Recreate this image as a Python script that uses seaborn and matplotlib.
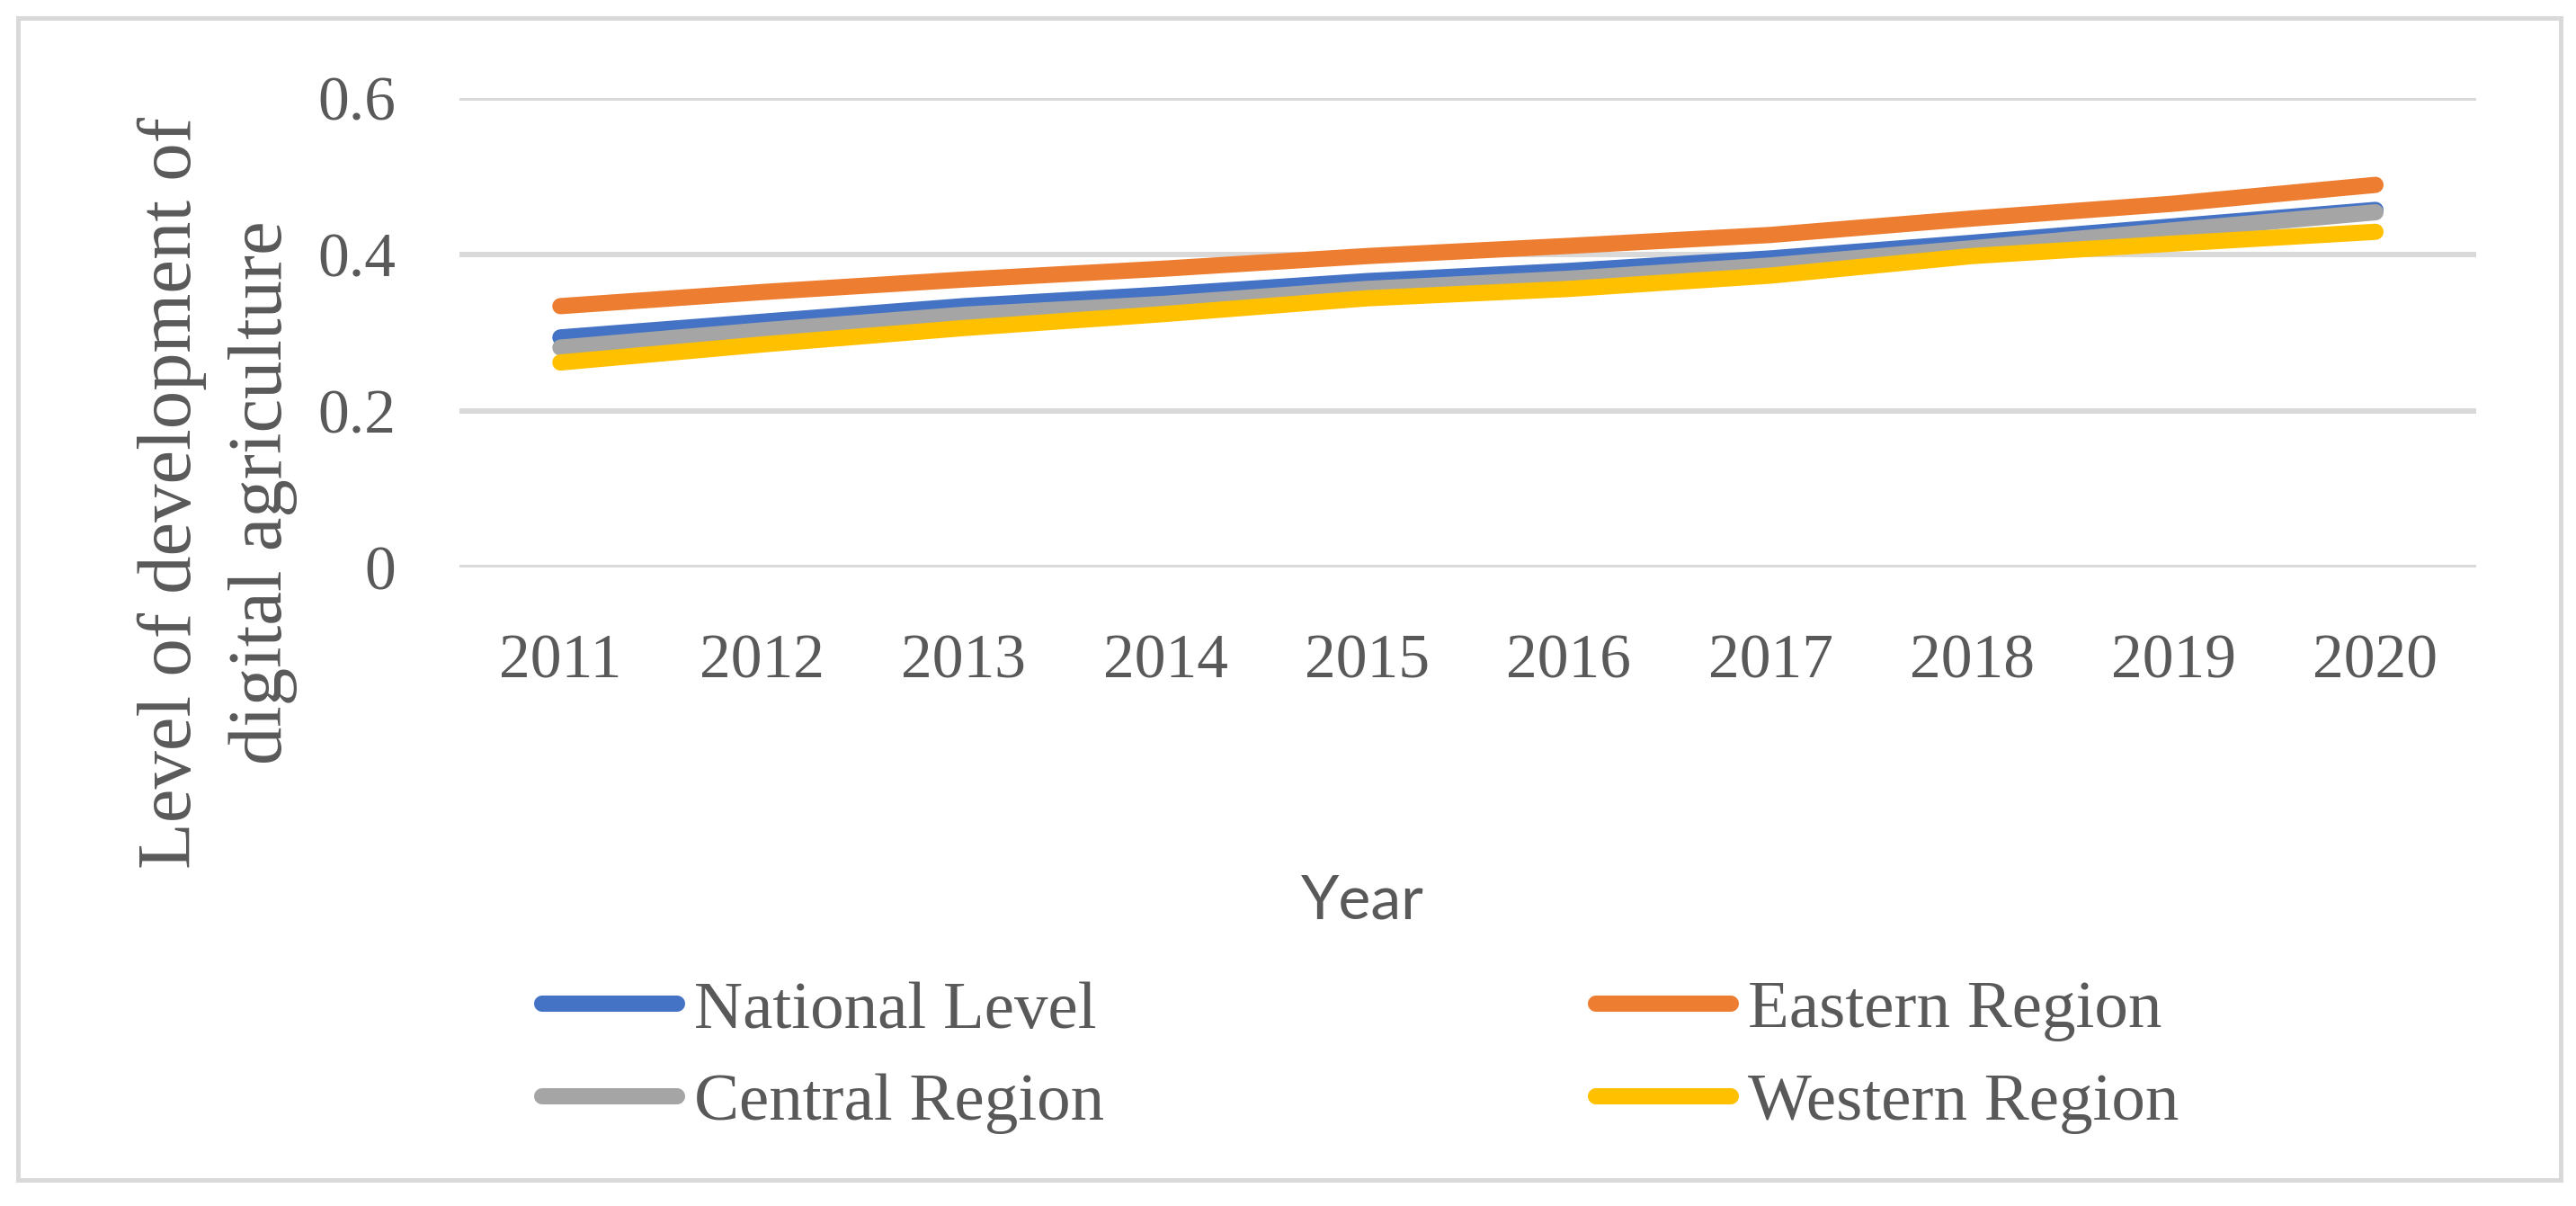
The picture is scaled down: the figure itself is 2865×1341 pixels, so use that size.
import numpy as np
import pandas as pd
import seaborn as sns
import matplotlib.pyplot as plt
from matplotlib.patches import Rectangle

years = [2011, 2012, 2013, 2014, 2015, 2016, 2017, 2018, 2019, 2020]
national = [0.294, 0.314, 0.334, 0.349, 0.366, 0.379, 0.395, 0.415, 0.436, 0.457]
eastern = [0.334, 0.352, 0.368, 0.382, 0.398, 0.411, 0.425, 0.446, 0.465, 0.489]
central = [0.281, 0.303, 0.323, 0.337, 0.356, 0.369, 0.386, 0.408, 0.431, 0.454]
western = [0.262, 0.285, 0.306, 0.324, 0.344, 0.356, 0.373, 0.398, 0.414, 0.429]

regions = ["National Level", "Eastern Region", "Central Region", "Western Region"]
colors = ["#4472C4", "#ED7D31", "#A5A5A5", "#FFC000"]
yticks = [0, 0.2, 0.4, 0.6]
ytick_labels = ["0", "0.2", "0.4", "0.6"]

df = pd.DataFrame({
    "year": years * 4,
    "value": national + eastern + central + western,
    "region": np.repeat(regions, len(years)),
})

sns.set_theme(style="white")
plt.rcParams['font.family'] = ['Liberation Serif', 'DejaVu Serif']
text_color = "#595959"
grid_color = "#D9D9D9"

fig = plt.figure(figsize=(28.65, 13.41), dpi=100)
ax = fig.add_axes([0.1784, 0.5295, 0.7829, 0.3892])

sns.lineplot(data=df, x="year", y="value", hue="region", hue_order=regions,
             palette=dict(zip(regions, colors)), linewidth=13,
             solid_capstyle="round", ax=ax, legend=False)

ax.set_xlim(2010.5, 2020.5)
ax.set_ylim(0, 0.6)
ax.set_xticks(years)
ax.set_xticklabels([str(y) for y in years])
ax.set_yticks(yticks)
ax.set_yticklabels(ytick_labels)
ax.tick_params(axis="both", length=0, labelsize=50, colors=text_color)
ax.tick_params(axis="y", pad=51)
ax.tick_params(axis="x", pad=53)
ax.set_xlabel("")
ax.set_ylabel("")
ax.yaxis.grid(True, color=grid_color, linewidth=4.3)
ax.xaxis.grid(False)
ax.set_axisbelow(True)
for s in ax.spines.values():
    s.set_visible(False)

# axis titles
fig.text(0.0845, 0.5913, "Level of development of\ndigital agriculture",
         rotation=90, ha="center", va="center", multialignment="center",
         linespacing=1.4, fontsize=61, color=text_color)
fig.text(0.5288, 0.2386, "Year", ha="center", va="baseline",
         fontsize=49, color=text_color, family=["Lato", "DejaVu Sans"])

# legend, filled row by row like the original
lines = ax.lines[:4]
order = [0, 2, 1, 3]
fig.legend([lines[i] for i in order], [regions[i] for i in order], ncol=2,
           loc="upper left", bbox_to_anchor=(603 / 2865, 1 - 1090 / 1341),
           bbox_transform=fig.transFigure, frameon=False,
           fontsize=54, labelcolor=text_color, handlelength=2.0,
           handletextpad=0.25, columnspacing=7.3, labelspacing=0.45,
           borderpad=0, borderaxespad=0)

# chart border
fig.patches.append(Rectangle((20 / 2865, 1 - 1312 / 1341), 2828 / 2865,
                             1292 / 1341, transform=fig.transFigure,
                             fill=False, edgecolor=grid_color, linewidth=3.6))

plt.savefig("out.png", dpi=100)
